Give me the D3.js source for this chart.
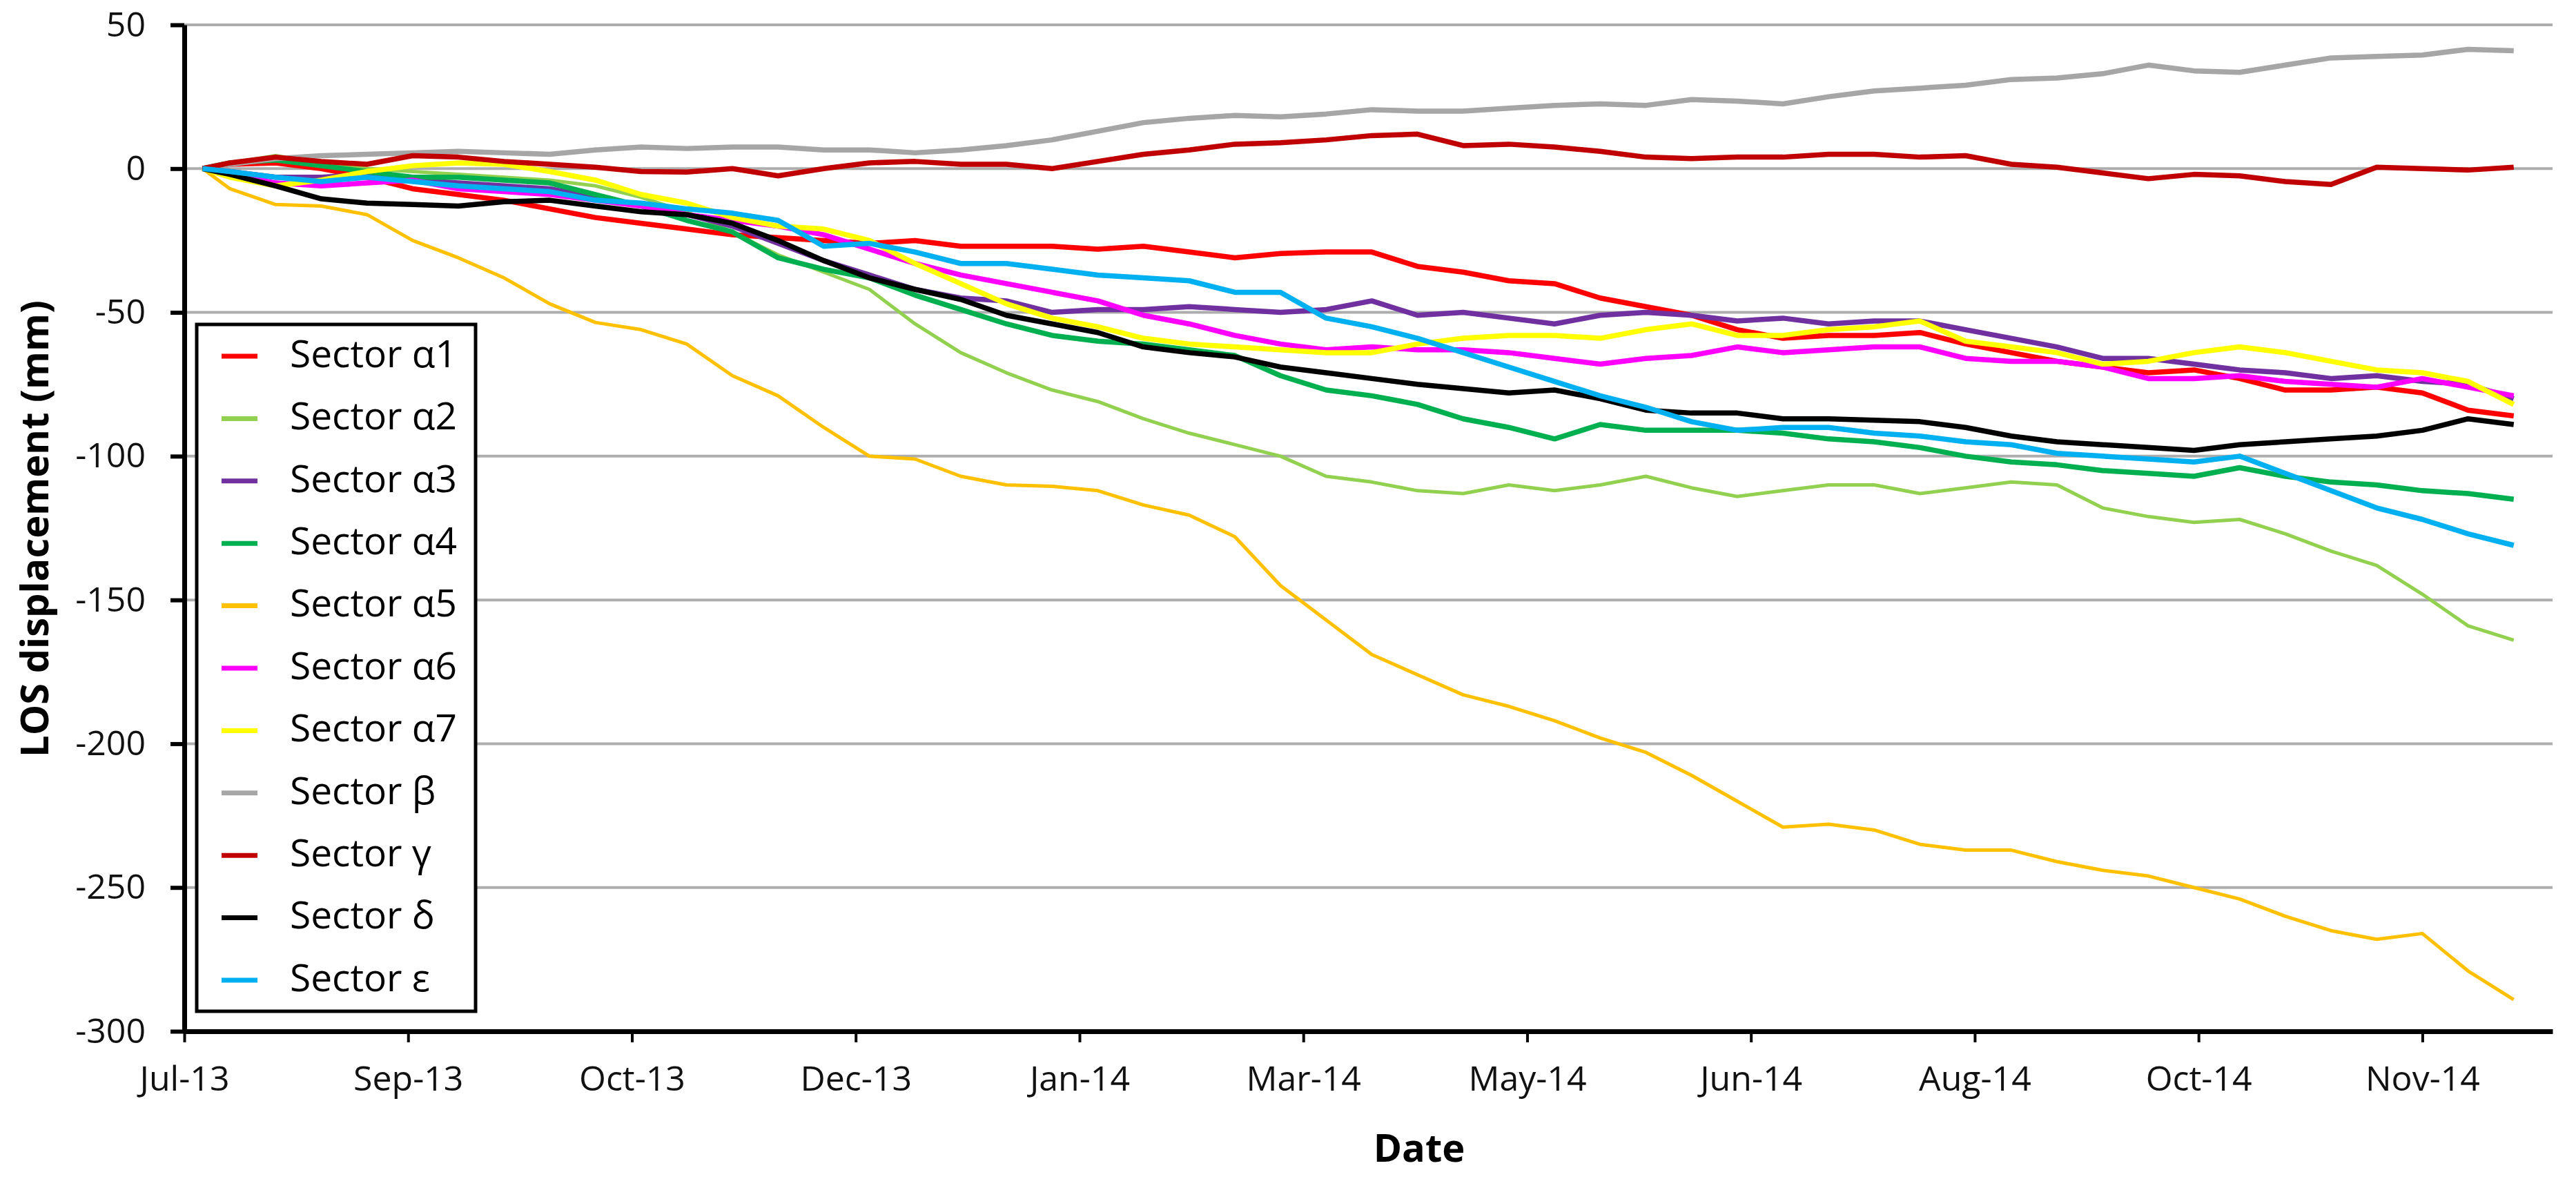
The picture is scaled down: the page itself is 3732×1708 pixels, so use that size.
<!DOCTYPE html>
<html>
<head>
<meta charset="utf-8">
<script src="https://cdn.jsdelivr.net/npm/d3@7"></script>
<style>
  body { margin: 0; background: #fff; }
  svg { display: block; }
  text { font-family: "Open Sans", "Noto Sans", sans-serif; fill: #000; }
</style>
</head>
<body>
<div id="chartContainer"></div>
<script>
// axis start and ticks (Excel date axis, ~49 day major unit)
var startDate = "2013-07-17";
var axisEndDays = 518.5;
var tickDates = ["2013-07-17","2013-09-04","2013-10-23","2013-12-11","2014-01-29","2014-03-19",
                 "2014-05-07","2014-06-25","2014-08-13","2014-10-01","2014-11-19"];
var tickLabels = ["Jul-13","Sep-13","Oct-13","Dec-13","Jan-14","Mar-14","May-14","Jun-14","Aug-14","Oct-14","Nov-14"];
var yTicks = [50, 0, -50, -100, -150, -200, -250, -300];

// sample days since startDate
var dayOffsets = [4,10,20,30,40,50,60,70,80,90,100,110,120,130,140,150,160,170,180,190,200,
                  210,220,230,240,250,260,270,280,290,300,310,320,330,340,350,360,370,380,390,400,
                  410,420,430,440,450,460,470,480,490,500,510];

var seriesNames = ["Sector \u03b11","Sector \u03b12","Sector \u03b13","Sector \u03b14","Sector \u03b15",
                   "Sector \u03b16","Sector \u03b17","Sector \u03b2","Sector \u03b3","Sector \u03b4","Sector \u03b5"];
var seriesColors = ["#FF0000","#92D050","#7030A0","#00B050","#FFC000","#FF00FF","#FFFF00",
                    "#A6A6A6","#C00000","#000000","#00B0F0"];

var alpha1 = [0,1.5,2,0,-3,-7,-9,-11,-14,-17,-19,-21,-23,-24,-25,-26,-25,-27,-27,-27,-28,-27,-29,-31,-29.5,-29,
              -29,-34,-36,-39,-40,-45,-48,-51,-56,-59,-58,-58,-57,-61,-64,-67,-69,-71,-70,-73,-77,-77,-76,-78,-84,-86];
var alpha2 = [0,2,4.5,2,0,-1,-2,-3,-4,-6,-10,-15,-22,-30,-36,-42,-54,-64,-71,-77,-81,-87,-92,-96,-100,-107,
              -109,-112,-113,-110,-112,-110,-107,-111,-114,-112,-110,-110,-113,-111,-109,-110,-118,-121,-123,-122,-127,-133,-138,-148,-159,-164];
var alpha3 = [0,-1,-3,-3,-2,-4,-5,-6,-7,-10,-13,-16,-20,-26,-32,-37,-42,-45,-46,-50,-49,-49,-48,-49,-50,-49,
              -46,-51,-50,-52,-54,-51,-50,-51,-53,-52,-54,-53,-53,-56,-59,-62,-66,-66,-68,-70,-71,-73,-72,-74,-75,-80];
var alpha4 = [0,2,3,1,-1,-3,-3,-4,-5,-9,-13,-18,-22,-31,-35,-38,-44,-49,-54,-58,-60,-61,-63,-65,-72,-77,
              -79,-82,-87,-90,-94,-89,-91,-91,-91,-92,-94,-95,-97,-100,-102,-103,-105,-106,-107,-104,-107,-109,-110,-112,-113,-115];
var alpha5 = [0,-7,-12.5,-13,-16,-25,-31,-38,-47,-53.5,-56,-61,-72,-79,-90,-100,-101,-107,-110,-110.5,-112,-117,-120.5,-128,-145,-157,
              -169,-176,-183,-187,-192,-198,-203,-211,-220,-229,-228,-230,-235,-237,-237,-241,-244,-246,-250,-254,-260,-265,-268,-266,-279,-289];
var alpha6 = [0,-2,-5,-6,-5,-4,-7,-8,-9,-11,-13,-16,-18,-20,-23,-28,-33,-37,-40,-43,-46,-51,-54,-58,-61,-63,
              -62,-63,-63,-64,-66,-68,-66,-65,-62,-64,-63,-62,-62,-66,-67,-67,-69,-73,-73,-72,-74,-75,-76,-73,-76,-79];
var alpha7 = [0,-3,-6,-4,-1,1,2,1.5,-1,-4,-9,-12,-17,-20,-21,-25,-33,-40,-47,-52,-55,-59,-61,-62,-63,-64,
              -64,-61,-59,-58,-58,-59,-56,-54,-58,-58,-56,-55,-53,-60,-62,-64,-68,-67,-64,-62,-64,-67,-70,-71,-74,-82];
var beta = [0,1.5,3.5,4.5,5,5.5,6,5.5,5,6.5,7.5,7,7.5,7.5,6.5,6.5,5.5,6.5,8,10,13,16,17.5,18.5,18,19,
            20.5,20,20,21,22,22.5,22,24,23.5,22.5,25,27,28,29,31,31.5,33,36,34,33.5,36,38.5,39,39.5,41.5,41];
var gamma = [0,2,4,2.5,1.5,4.5,4,2.5,1.5,0.5,-1,-1.2,0,-2.5,0,2,2.5,1.5,1.5,0,2.5,5,6.5,8.5,9,10,
             11.5,12,8,8.5,7.5,6,4,3.5,4,4,5,5,4,4.5,1.5,0.5,-1.5,-3.5,-2,-2.5,-4.5,-5.5,0.5,0,-0.5,0.5];
var delta = [0,-2,-6,-10.5,-12,-12.5,-13,-11.5,-11,-13,-15,-16,-19,-25,-32,-38,-42,-45.5,-51,-54,-57,-62,-64,-65.5,-69,-71,
             -73,-75,-76.5,-78,-77,-80,-84,-85,-85,-87,-87,-87.5,-88,-90,-93,-95,-96,-97,-98,-96,-95,-94,-93,-91,-87,-89];
var epsilon = [0,-1,-3,-4.5,-3,-4.5,-6,-7,-8,-11,-12,-14,-15.5,-18,-27,-26,-29,-33,-33,-35,-37,-38,-39,-43,-43,-52,
               -55,-59,-64,-69,-74,-79,-83,-88,-91,-90,-90,-92,-93,-95,-96,-99,-100,-101,-102,-100,-106,-112,-118,-122,-127,-131];

var seriesValues = [alpha1, alpha2, alpha3, alpha4, alpha5, alpha6, alpha7, beta, gamma, delta, epsilon];
var thinSeries = ["Sector \u03b12", "Sector \u03b15"];

var W = 3732, H = 1708;
var svg = d3.select("#chartContainer").append("svg").attr("width", W).attr("height", H);

var parse = d3.timeParse("%Y-%m-%d");
var t0 = parse(startDate);
var x = d3.scaleTime()
  .domain([t0, d3.timeHour.offset(t0, axisEndDays * 24)])
  .range([267, 3698]);
var y = d3.scaleLinear().domain([-300, 50]).range([1494, 36]);

// gridlines
svg.append("g").selectAll("line")
  .data(yTicks.filter(function (d) { return d !== -300; }))
  .enter().append("line")
  .attr("x1", x.range()[0]).attr("x2", x.range()[1])
  .attr("y1", function (d) { return y(d); }).attr("y2", function (d) { return y(d); })
  .style("stroke", "#ADADAD").style("stroke-width", 4);

// series
var line = d3.line()
  .x(function (d) { return x(d.date); })
  .y(function (d) { return y(d.v); });

seriesNames.forEach(function (name, i) {
  var vals = seriesValues[i];
  var pts = dayOffsets.slice(0, vals.length).map(function (o, j) {
    return { date: d3.timeDay.offset(t0, o), v: vals[j] };
  });
  svg.append("path")
    .datum(pts)
    .attr("d", line)
    .style("fill", "none")
    .style("stroke", seriesColors[i])
    .style("stroke-width", thinSeries.indexOf(name) >= 0 ? 5 : 7.5)
    .style("stroke-linejoin", "round");
});

// axes
var xAxis = d3.axisBottom(x)
  .tickValues(tickDates.map(parse))
  .tickFormat(function (d, i) { return tickLabels[i]; })
  .tickSize(16).tickSizeOuter(0).tickPadding(34);
var gx = svg.append("g").attr("transform", "translate(0,1494)").call(xAxis);
gx.select(".domain").style("stroke", "#000").style("stroke-width", 7);
gx.selectAll(".tick line").style("stroke", "#000").style("stroke-width", 4);
gx.selectAll(".tick text").style("font-size", "50px").style("font-family", "'Open Sans'").style("fill", "#111");

var yAxis = d3.axisLeft(y)
  .tickValues(yTicks)
  .tickFormat(function (d) { return String(d); })
  .tickSize(20).tickSizeOuter(0).tickPadding(36);
var gy = svg.append("g").attr("transform", "translate(267,0)").call(yAxis);
gy.select(".domain").style("stroke", "#000").style("stroke-width", 7);
gy.selectAll(".tick line").style("stroke", "#000").style("stroke-width", 6);
gy.selectAll(".tick text").style("font-size", "50px").style("font-family", "'Open Sans'").style("fill", "#111");

// axis titles
svg.append("text")
  .attr("transform", "translate(70,766) rotate(-90)")
  .attr("text-anchor", "middle")
  .style("font-size", "56px").style("font-weight", "bold")
  .text("LOS displacement (mm)");

svg.append("text")
  .attr("x", 2056).attr("y", 1683)
  .attr("text-anchor", "middle")
  .style("font-size", "56px").style("font-weight", "bold")
  .text("Date");

// legend
var legend = svg.append("g");
legend.append("rect")
  .attr("x", 285).attr("y", 470).attr("width", 404).attr("height", 995)
  .style("fill", "#fff").style("stroke", "#000").style("stroke-width", 5);
var items = legend.selectAll("g.item")
  .data(seriesNames)
  .enter().append("g")
  .attr("class", "item")
  .attr("transform", function (d, i) { return "translate(0," + (512 + i * 90.4) + ")"; });
items.append("line")
  .attr("x1", 321).attr("x2", 373).attr("y1", 4).attr("y2", 4)
  .style("stroke", function (d, i) { return seriesColors[i]; })
  .style("stroke-width", 7);
items.append("text")
  .attr("x", 420).attr("y", 0).attr("dy", "0.36em")
  .style("font-size", "55px")
  .text(function (d) { return d; });
</script>
</body>
</html>
